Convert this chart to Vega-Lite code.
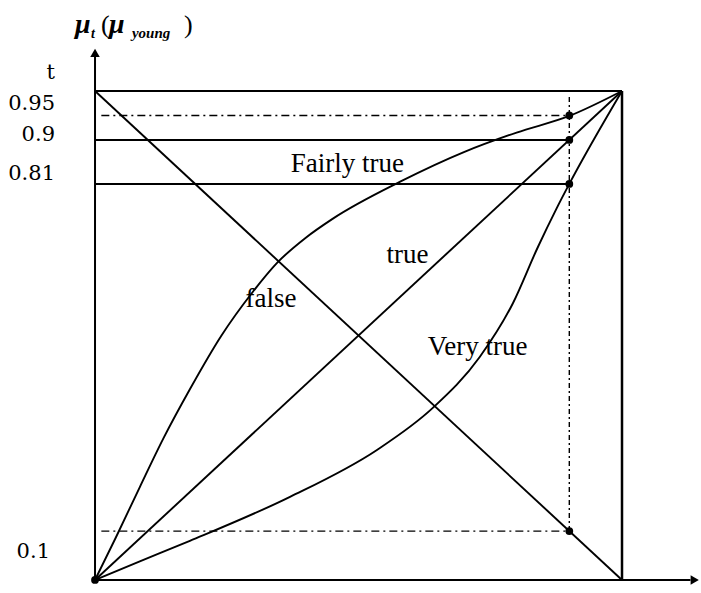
{
  "$schema": "https://vega.github.io/schema/vega-lite/v6.json",
  "width": 701,
  "height": 593,
  "padding": 0,
  "autosize": {"type": "fit", "contains": "padding"},
  "config": {"view": {"stroke": null}, "background": "white"},
  "datasets": {
    "one": [{}],
    "curves": [
      {"curve": "false", "x": 0, "y": 1},
      {"curve": "false", "x": 1, "y": 0},
      {"curve": "true", "x": 0, "y": 0},
      {"curve": "true", "x": 1, "y": 1},
      {"curve": "fairly true", "x": 0, "y": 0},
      {"curve": "fairly true", "x": 0.04, "y": 0.088},
      {"curve": "fairly true", "x": 0.085, "y": 0.19},
      {"curve": "fairly true", "x": 0.13, "y": 0.29},
      {"curve": "fairly true", "x": 0.18, "y": 0.39},
      {"curve": "fairly true", "x": 0.24, "y": 0.5},
      {"curve": "fairly true", "x": 0.3, "y": 0.59},
      {"curve": "fairly true", "x": 0.345, "y": 0.648},
      {"curve": "fairly true", "x": 0.4, "y": 0.7},
      {"curve": "fairly true", "x": 0.45, "y": 0.738},
      {"curve": "fairly true", "x": 0.58, "y": 0.815},
      {"curve": "fairly true", "x": 0.7, "y": 0.875},
      {"curve": "fairly true", "x": 0.8, "y": 0.915},
      {"curve": "fairly true", "x": 0.9, "y": 0.949},
      {"curve": "fairly true", "x": 1, "y": 1},
      {"curve": "very true", "x": 0, "y": 0},
      {"curve": "very true", "x": 0.085, "y": 0.038},
      {"curve": "very true", "x": 0.18, "y": 0.08},
      {"curve": "very true", "x": 0.37, "y": 0.17},
      {"curve": "very true", "x": 0.535, "y": 0.266},
      {"curve": "very true", "x": 0.641, "y": 0.352},
      {"curve": "very true", "x": 0.73, "y": 0.456},
      {"curve": "very true", "x": 0.793, "y": 0.566},
      {"curve": "very true", "x": 0.84, "y": 0.68},
      {"curve": "very true", "x": 0.875, "y": 0.758},
      {"curve": "very true", "x": 0.9, "y": 0.81},
      {"curve": "very true", "x": 1, "y": 1}
    ],
    "solidH": [
      {"y": 1, "x": 0, "x2": 1},
      {"y": 0.9, "x": 0, "x2": 0.9},
      {"y": 0.81, "x": 0, "x2": 0.9}
    ],
    "dashH": [
      {"y": 0.95, "x": 0.012, "x2": 0.9},
      {"y": 0.1, "x": 0.012, "x2": 0.9}
    ],
    "dashV": [{"x": 0.9, "y": 0.1, "y2": 0.99}],
    "solidV": [{"x": 1, "y": 0, "y2": 1}],
    "axes": [
      {"x": 0, "y": 0, "x2": 1.13, "y2": 0},
      {"x": 0, "y": 0, "x2": 0, "y2": 1.07}
    ],
    "dots": [
      {"x": 0.9, "y": 0.95},
      {"x": 0.9, "y": 0.9},
      {"x": 0.9, "y": 0.81},
      {"x": 0.9, "y": 0.1},
      {"x": 0, "y": 0}
    ],
    "curveLabels": [
      {"label": "Fairly true", "x": 0.479, "y": 0.834},
      {"label": "true", "x": 0.593, "y": 0.648},
      {"label": "false", "x": 0.334, "y": 0.558},
      {"label": "Very true", "x": 0.726, "y": 0.46}
    ],
    "ticks": [
      {"v": 1, "label": "t"},
      {"v": 0.95, "label": "0.95"},
      {"v": 0.9, "label": "0.9"},
      {"v": 0.81, "label": "0.81"},
      {"v": 0.1, "label": "0.1"}
    ]
  },
  "layer": [
    {
      "data": {"name": "axes"},
      "mark": {"type": "rule", "strokeWidth": 2, "color": "black"},
      "encoding": {
        "x": {"field": "x", "type": "quantitative", "scale": {"domain": [-0.1803, 1.1499], "nice": false, "zero": false}, "axis": null},
        "x2": {"field": "x2"},
        "y": {"field": "y", "type": "quantitative", "scale": {"domain": [-0.0266, 1.1861], "nice": false, "zero": false}, "axis": null},
        "y2": {"field": "y2"}
      }
    },
    {
      "data": {"name": "one"},
      "mark": {"type": "point", "shape": "triangle-up", "filled": true, "size": 90, "color": "black", "opacity": 1},
      "encoding": {
        "x": {"datum": 0, "type": "quantitative", "scale": {"domain": [-0.1803, 1.1499], "nice": false, "zero": false}, "axis": null},
        "y": {"datum": 1.078, "type": "quantitative", "scale": {"domain": [-0.0266, 1.1861], "nice": false, "zero": false}, "axis": null}
      }
    },
    {
      "data": {"name": "one"},
      "mark": {"type": "point", "shape": "triangle-right", "filled": true, "size": 90, "color": "black", "opacity": 1},
      "encoding": {
        "x": {"datum": 1.138, "type": "quantitative", "scale": {"domain": [-0.1803, 1.1499], "nice": false, "zero": false}, "axis": null},
        "y": {"datum": 0, "type": "quantitative", "scale": {"domain": [-0.0266, 1.1861], "nice": false, "zero": false}, "axis": null}
      }
    },
    {
      "data": {"name": "solidH"},
      "mark": {"type": "rule", "strokeWidth": 2, "color": "black"},
      "encoding": {
        "x": {"field": "x", "type": "quantitative", "scale": {"domain": [-0.1803, 1.1499], "nice": false, "zero": false}, "axis": null},
        "x2": {"field": "x2"},
        "y": {"field": "y", "type": "quantitative", "scale": {"domain": [-0.0266, 1.1861], "nice": false, "zero": false}, "axis": null}
      }
    },
    {
      "data": {"name": "solidV"},
      "mark": {"type": "rule", "strokeWidth": 2.5, "color": "black"},
      "encoding": {
        "x": {"field": "x", "type": "quantitative", "scale": {"domain": [-0.1803, 1.1499], "nice": false, "zero": false}, "axis": null},
        "y": {"field": "y", "type": "quantitative", "scale": {"domain": [-0.0266, 1.1861], "nice": false, "zero": false}, "axis": null},
        "y2": {"field": "y2"}
      }
    },
    {
      "data": {"name": "dashH"},
      "mark": {"type": "rule", "strokeWidth": 1.4, "color": "black", "strokeDash": [8, 4, 2, 4]},
      "encoding": {
        "x": {"field": "x", "type": "quantitative", "scale": {"domain": [-0.1803, 1.1499], "nice": false, "zero": false}, "axis": null},
        "x2": {"field": "x2"},
        "y": {"field": "y", "type": "quantitative", "scale": {"domain": [-0.0266, 1.1861], "nice": false, "zero": false}, "axis": null}
      }
    },
    {
      "data": {"name": "dashV"},
      "mark": {"type": "rule", "strokeWidth": 1.4, "color": "black", "strokeDash": [5, 3, 2, 3]},
      "encoding": {
        "x": {"field": "x", "type": "quantitative", "scale": {"domain": [-0.1803, 1.1499], "nice": false, "zero": false}, "axis": null},
        "y": {"field": "y", "type": "quantitative", "scale": {"domain": [-0.0266, 1.1861], "nice": false, "zero": false}, "axis": null},
        "y2": {"field": "y2"}
      }
    },
    {
      "data": {"name": "curves"},
      "mark": {"type": "line", "strokeWidth": 1.9, "color": "black", "interpolate": "monotone"},
      "encoding": {
        "x": {"field": "x", "type": "quantitative", "scale": {"domain": [-0.1803, 1.1499], "nice": false, "zero": false}, "axis": null},
        "y": {"field": "y", "type": "quantitative", "scale": {"domain": [-0.0266, 1.1861], "nice": false, "zero": false}, "axis": null},
        "detail": {"field": "curve"}
      }
    },
    {
      "data": {"name": "dots"},
      "mark": {"type": "point", "shape": "circle", "filled": true, "size": 60, "color": "black", "opacity": 1},
      "encoding": {
        "x": {"field": "x", "type": "quantitative", "scale": {"domain": [-0.1803, 1.1499], "nice": false, "zero": false}, "axis": null},
        "y": {"field": "y", "type": "quantitative", "scale": {"domain": [-0.0266, 1.1861], "nice": false, "zero": false}, "axis": null}
      }
    },
    {
      "data": {"name": "curveLabels"},
      "mark": {"type": "text", "font": "Liberation Serif", "fontSize": 27, "align": "center", "baseline": "alphabetic", "color": "black"},
      "encoding": {
        "x": {"field": "x", "type": "quantitative", "scale": {"domain": [-0.1803, 1.1499], "nice": false, "zero": false}, "axis": null},
        "y": {"field": "y", "type": "quantitative", "scale": {"domain": [-0.0266, 1.1861], "nice": false, "zero": false}, "axis": null},
        "text": {"field": "label"}
      }
    },
    {
      "data": {"name": "ticks"},
      "mark": {"type": "text", "font": "DejaVu Serif", "fontSize": 21, "align": "right", "baseline": "middle", "color": "black",
        "dy": {"expr": "datum.v == 1 ? -18 : datum.v == 0.95 ? -11 : datum.v == 0.9 ? -5 : datum.v == 0.81 ? -10 : 21"},
        "dx": {"expr": "datum.v == 0.1 ? -5 : 0"}},
      "encoding": {
        "x": {"datum": -0.0759, "type": "quantitative", "scale": {"domain": [-0.1803, 1.1499], "nice": false, "zero": false}, "axis": null},
        "y": {"field": "v", "type": "quantitative", "scale": {"domain": [-0.0266, 1.1861], "nice": false, "zero": false}, "axis": null},
        "text": {"field": "label"}
      }
    },
    {
      "data": {"name": "one"},
      "mark": {"type": "text", "font": "Liberation Serif", "fontSize": 28, "fontStyle": "italic", "fontWeight": "bold", "align": "left", "baseline": "alphabetic", "color": "black"},
      "encoding": {
        "x": {"datum": -0.038, "type": "quantitative", "scale": {"domain": [-0.1803, 1.1499], "nice": false, "zero": false}, "axis": null},
        "y": {"datum": 1.119, "type": "quantitative", "scale": {"domain": [-0.0266, 1.1861], "nice": false, "zero": false}, "axis": null},
        "text": {"value": "μ"}
      }
    },
    {
      "data": {"name": "one"},
      "mark": {"type": "text", "font": "Liberation Serif", "fontSize": 14, "fontStyle": "italic", "fontWeight": "bold", "align": "left", "baseline": "alphabetic", "color": "black"},
      "encoding": {
        "x": {"datum": -0.0076, "type": "quantitative", "scale": {"domain": [-0.1803, 1.1499], "nice": false, "zero": false}, "axis": null},
        "y": {"datum": 1.108, "type": "quantitative", "scale": {"domain": [-0.0266, 1.1861], "nice": false, "zero": false}, "axis": null},
        "text": {"value": "t"}
      }
    },
    {
      "data": {"name": "one"},
      "mark": {"type": "text", "font": "Liberation Serif", "fontSize": 26, "align": "left", "baseline": "alphabetic", "color": "black"},
      "encoding": {
        "x": {"datum": 0.0114, "type": "quantitative", "scale": {"domain": [-0.1803, 1.1499], "nice": false, "zero": false}, "axis": null},
        "y": {"datum": 1.119, "type": "quantitative", "scale": {"domain": [-0.0266, 1.1861], "nice": false, "zero": false}, "axis": null},
        "text": {"value": "("}
      }
    },
    {
      "data": {"name": "one"},
      "mark": {"type": "text", "font": "Liberation Serif", "fontSize": 28, "fontStyle": "italic", "fontWeight": "bold", "align": "left", "baseline": "alphabetic", "color": "black"},
      "encoding": {
        "x": {"datum": 0.0266, "type": "quantitative", "scale": {"domain": [-0.1803, 1.1499], "nice": false, "zero": false}, "axis": null},
        "y": {"datum": 1.119, "type": "quantitative", "scale": {"domain": [-0.0266, 1.1861], "nice": false, "zero": false}, "axis": null},
        "text": {"value": "μ"}
      }
    },
    {
      "data": {"name": "one"},
      "mark": {"type": "text", "font": "Liberation Serif", "fontSize": 15, "fontStyle": "italic", "fontWeight": "bold", "align": "left", "baseline": "alphabetic", "color": "black"},
      "encoding": {
        "x": {"datum": 0.07, "type": "quantitative", "scale": {"domain": [-0.1803, 1.1499], "nice": false, "zero": false}, "axis": null},
        "y": {"datum": 1.108, "type": "quantitative", "scale": {"domain": [-0.0266, 1.1861], "nice": false, "zero": false}, "axis": null},
        "text": {"value": "young"}
      }
    },
    {
      "data": {"name": "one"},
      "mark": {"type": "text", "font": "Liberation Serif", "fontSize": 26, "align": "left", "baseline": "alphabetic", "color": "black"},
      "encoding": {
        "x": {"datum": 0.1689, "type": "quantitative", "scale": {"domain": [-0.1803, 1.1499], "nice": false, "zero": false}, "axis": null},
        "y": {"datum": 1.119, "type": "quantitative", "scale": {"domain": [-0.0266, 1.1861], "nice": false, "zero": false}, "axis": null},
        "text": {"value": ")"}
      }
    }
  ]
}
